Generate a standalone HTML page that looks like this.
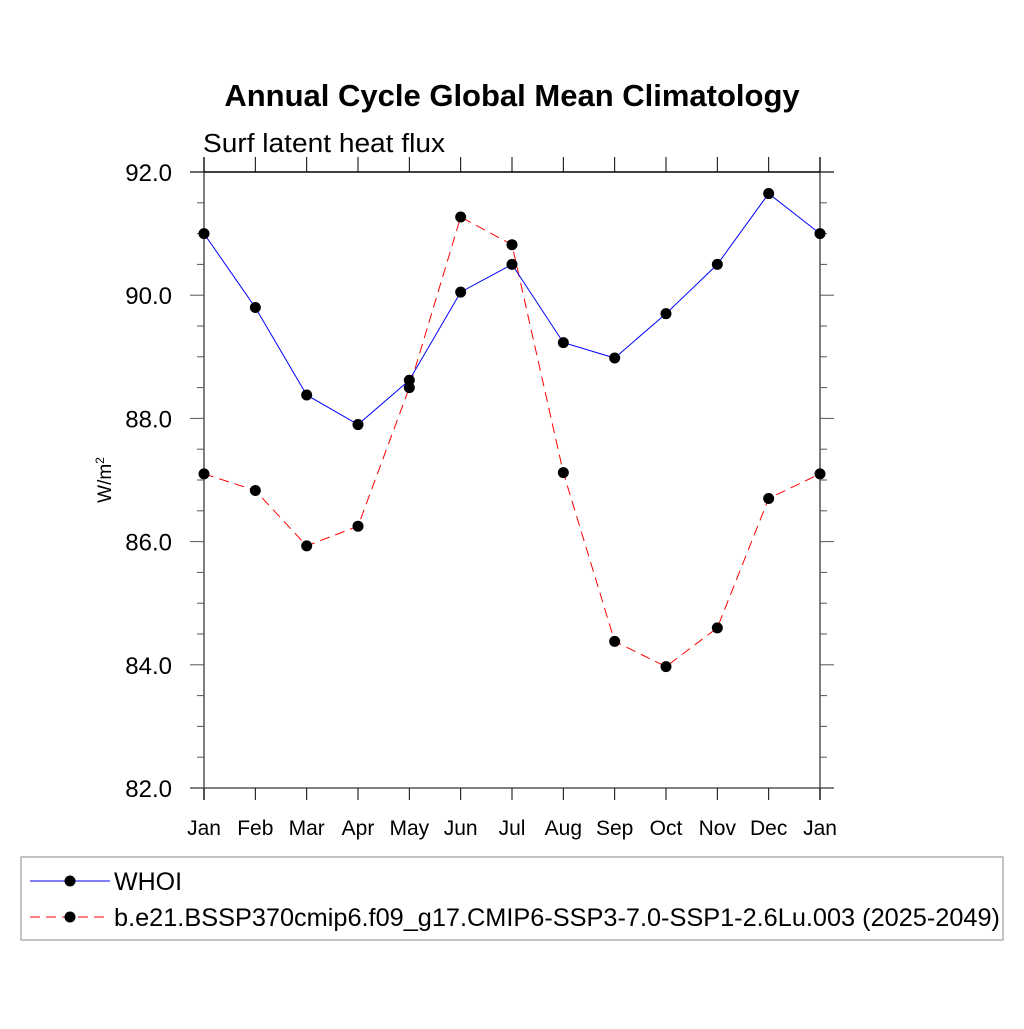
<!DOCTYPE html>
<html><head><meta charset="utf-8"><style>body{margin:0;background:#fff}svg text{font-family:"Liberation Sans",sans-serif}</style></head>
<body>
<svg width="1024" height="1024" id="c">
<text x="512" y="106" text-anchor="middle" font-size="31" font-weight="bold">Annual Cycle Global Mean Climatology</text>
<text x="203" y="152" font-size="25.5" textLength="242" lengthAdjust="spacingAndGlyphs">Surf latent heat flux</text>
<text transform="translate(111,480) rotate(-90)" text-anchor="middle" font-size="19">W/m<tspan font-size="12" dy="-7">2</tspan></text>
<g id="axes"></g><g id="series"></g>
<g>
<rect x="21" y="857" width="982" height="83" fill="none" stroke="#888" stroke-width="1"/>
<line x1="30" y1="881" x2="110" y2="881" stroke="#00f" stroke-width="1"/>
<circle cx="70" cy="881" r="5.5" fill="#000"/>
<text x="114" y="890" font-size="25">WHOI</text>
<line x1="30" y1="917" x2="110" y2="917" stroke="#f00" stroke-width="1" stroke-dasharray="10,6"/>
<circle cx="70" cy="917" r="5.5" fill="#000"/>
<text x="114" y="926" font-size="25" textLength="886" lengthAdjust="spacingAndGlyphs">b.e21.BSSP370cmip6.f09_g17.CMIP6-SSP3-7.0-SSP1-2.6Lu.003 (2025-2049)</text>
</g>
</svg>
<script>
const months=["Jan","Feb","Mar","Apr","May","Jun","Jul","Aug","Sep","Oct","Nov","Dec","Jan"];
const whoi=[91.0,89.8,88.38,87.9,88.62,90.05,90.5,89.23,88.98,89.7,90.5,91.65,91.0];
const model=[87.1,86.83,85.93,86.25,88.5,91.27,90.82,87.12,84.38,83.97,84.6,86.7,87.1];
const yTicks=[82,84,86,88,90,92];
const NS="http://www.w3.org/2000/svg";
const X0=204,X1=820,Y0=788,Y1=172,YMIN=82,YMAX=92;
function xs(i){return X0+(X1-X0)*i/(months.length-1);}
function ys(v){return Y0-(v-YMIN)/(YMAX-YMIN)*(Y0-Y1);}
function mk(t,a,p){const e=document.createElementNS(NS,t);for(const k in a)e.setAttribute(k,a[k]);p.appendChild(e);return e;}
const ax=document.getElementById('axes'),se=document.getElementById('series');
const g="#555";
let l;
l=mk('line',{x1:X0,y1:157,x2:X0,y2:800,stroke:g,'stroke-width':1.5},ax);

l=mk('line',{x1:X1,y1:157,x2:X1,y2:800,stroke:g,'stroke-width':1.5},ax);

l=mk('line',{x1:190,y1:Y1,x2:834,y2:Y1,stroke:"#000",'stroke-width':1.5},ax);

l=mk('line',{x1:190,y1:Y0,x2:834,y2:Y0,stroke:g,'stroke-width':1.5},ax);

for(let v=YMIN;v<=YMAX+1e-9;v+=0.5){const y=ys(v);const maj=Math.abs(v%2)<1e-9;
 mk('line',{x1:X0-(maj?14:7),y1:y,x2:X0,y2:y,stroke:g,'stroke-width':1},ax);
 mk('line',{x1:X1,y1:y,x2:X1+(maj?14:7),y2:y,stroke:g,'stroke-width':1},ax);}
yTicks.forEach(v=>{const t=mk('text',{x:172,y:ys(v)+9,'text-anchor':'end','font-size':24},ax);t.textContent=v.toFixed(1);
 
 });
months.forEach((m,i)=>{const x=xs(i);
 mk('line',{x1:x,y1:157,x2:x,y2:Y1,stroke:"#000",'stroke-width':1},ax);
 mk('line',{x1:x,y1:Y0,x2:x,y2:800,stroke:"#000",'stroke-width':1},ax);
 const t=mk('text',{x:x,y:835,'text-anchor':'middle','font-size':21},ax);t.textContent=m;
 
 });
function draw(vals,col,dash,name){
 const p=mk('polyline',{points:vals.map((v,i)=>xs(i)+','+ys(v)).join(' '),fill:'none',stroke:col,'stroke-width':1,'stroke-dasharray':dash},se);
 
 
 vals.forEach((v,i)=>{const c=mk('circle',{cx:xs(i),cy:ys(v),r:5.5,fill:'#000'},se);
  
  });}
draw(model,'#f00','10,6','model');
draw(whoi,'#00f','none','whoi');
</script>
</body></html>
